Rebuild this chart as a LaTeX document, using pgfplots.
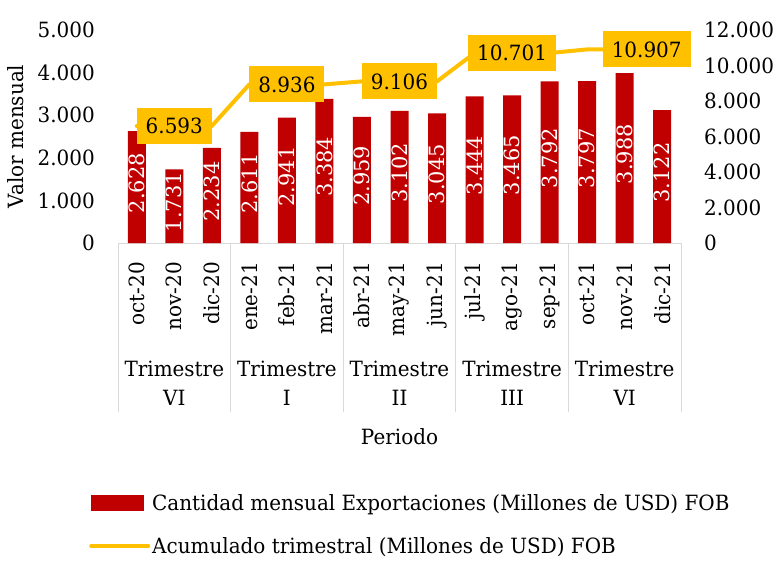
\documentclass[border=0pt]{standalone}
\usepackage{pgfplots}
\usepackage{pgfplotstable}
\pgfplotsset{compat=1.18}
\usepackage{fontspec}
\setmainfont{DejaVu Serif}[FakeStretch=0.95]
\definecolor{barred}{HTML}{C00000}
\definecolor{gold}{HTML}{FFC000}
\definecolor{sepgray}{HTML}{D9D9D9}

\pgfplotstableread{
x y
0 2628
1 1731
2 2234
3 2611
4 2941
5 3384
6 2959
7 3102
8 3045
9 3444
10 3465
11 3792
12 3797
13 3988
14 3122
}\monthly
\pgfplotstableread{
x y
0 6593
1 6593
2 6593
3 8936
4 8936
5 8936
6 9106
7 9106
8 9106
9 10701
10 10701
11 10701
12 10907
13 10907
14 10907
}\quarterly
\pgfplotstableread{
x y s
1 6593 0
4 8936 0
7 9106 0
10 10701 0
13 10907 22
}\qlabels

\begin{document}
\begin{tikzpicture}
\useasboundingbox (0,0) rectangle (783pt,560pt);
\pgfplotsset{
  every axis/.append style={
    scale only axis, width=563pt, height=213pt,
    at={(118pt,317pt)}, anchor=south west,
    xmin=-0.5, xmax=14.5,
    /pgf/number format/1000 sep={.},
    /pgf/number format/assume math mode=true,
    font=\fontsize{21}{25}\selectfont,
    major tick length=0pt,
    scaled y ticks=false,
  }
}
\begin{axis}[
  ymin=0, ymax=5000, ytick={0,1000,...,5000},
  axis x line*=bottom, axis y line*=left,
  x axis line style={draw=sepgray, line width=1pt, -},
  y axis line style={draw=none},
  xtick={0,...,14},
  xticklabels={oct-20,nov-20,dic-20,ene-21,feb-21,mar-21,abr-21,may-21,jun-21,jul-21,ago-21,sep-21,oct-21,nov-21,dic-21},
  xticklabel style={yshift=-19pt, rotate=90, anchor=east, inner sep=0pt},
  minor xtick={-0.5,2.5,5.5,8.5,11.5,14.5},
  minor tick length=169pt,
  tick align=outside,
  minor x tick style={draw=sepgray, line width=1pt},
  extra x ticks={1,4,7,10,13},
  extra x tick labels={Trimestre\\VI, Trimestre\\I, Trimestre\\II, Trimestre\\III, Trimestre\\VI},
  extra x tick style={major tick length=0pt,
     every x tick label/.style={yshift=-140pt, anchor=center, align=center, inner sep=0pt, font=\fontsize{21}{29}\selectfont}},
  yticklabel style={anchor=east, inner sep=0pt, xshift=-23pt},
  ylabel={Valor mensual}, ylabel style={at={(axis description cs:-0.181,0.5)}, anchor=center},
  xlabel={Periodo}, xlabel style={at={(axis description cs:0.5,-0.911)}, anchor=center},
]
\addplot[ybar, bar width=18pt, fill=barred, draw=none,
  nodes near coords={\scalebox{1.05}[1]{\pgfmathprintnumber{\pgfplotspointmeta}}},
  visualization depends on={y \as \rawy},
  every node near coord/.append style={yshift=-0.0213*\rawy+4, rotate=90, anchor=center, text=white, inner sep=0pt, font=\fontsize{21}{25}\selectfont}
] table[x=x,y=y] {\monthly};
\end{axis}
\begin{axis}[
  ymin=0, ymax=12000, ytick={0,2000,...,12000},
  axis y line*=right, hide x axis, y axis line style={draw=none},
  yticklabel style={anchor=west, inner sep=0pt, xshift=23pt},
  legend style={at={(axis description cs:-0.0515,-1.3216)}, anchor=west, draw=none, fill=none,
    inner sep=0pt, row sep=26pt, column sep=2pt, font=\fontsize{21}{25}\selectfont,
    nodes={inner sep=0pt}},
  legend cell align=left,
]
\addlegendimage{legend image code/.code={\fill[barred] (0pt,-7.5pt) rectangle (52pt,7.5pt);}}
\addlegendentry{Cantidad mensual Exportaciones (Millones de USD) FOB}
\addplot[gold, line width=4pt, mark=none, line cap=round, line join=round,
  legend image code/.code={\draw[gold, line width=4pt] (0pt,0pt) -- (57pt,0pt);}
] table[x=x,y=y] {\quarterly};
\addlegendentry{Acumulado trimestral (Millones de USD) FOB}
\addplot[draw=none, mark=none, forget plot,
  nodes near coords={\pgfmathprintnumber{\pgfplotspointmeta}},
  visualization depends on={\thisrow{s} \as \sh},
  every node near coord/.append style={anchor=center, fill=gold, text=black, xshift=\sh pt, inner xsep=9pt, inner ysep=0pt, minimum height=36pt}
] table[x=x,y=y] {\qlabels};
\end{axis}
\end{tikzpicture}
\end{document}
